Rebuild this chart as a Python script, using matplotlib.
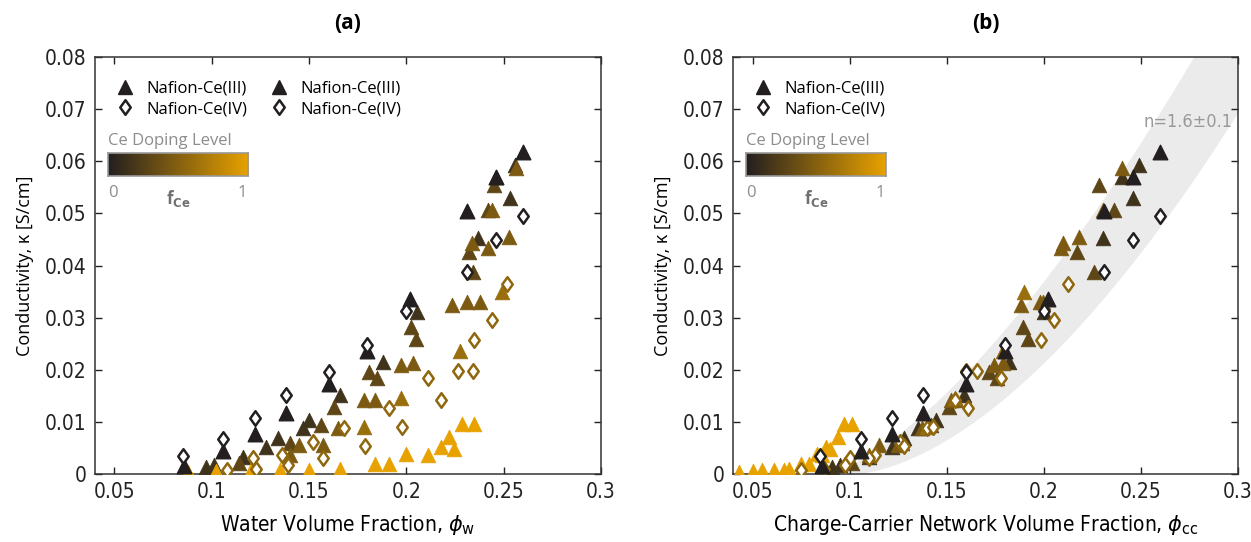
import numpy as np
import matplotlib
matplotlib.use('Agg')
import matplotlib.pyplot as plt
from matplotlib.colors import LinearSegmentedColormap
from matplotlib.lines import Line2D
from matplotlib.path import Path
from matplotlib import font_manager
from matplotlib.font_manager import FontProperties

_fonts = font_manager.fontManager.ttflist
_names = {f.name for f in _fonts}
MAIN = 'Open Sans' if 'Open Sans' in _names else 'DejaVu Sans'
plt.rcParams['font.family'] = [MAIN, 'DejaVu Sans']

# find a condensed / narrow face for the tick labels
_cond = None
for f in _fonts:
    if f.style == 'normal' and f.weight in (400, 'normal', 'regular') and \
            (('Narrow' in f.name) or ('Condensed' in f.name) or
             (f.stretch in ('condensed', 'semi-condensed', 'extra-condensed', 'ultra-condensed'))):
        _cond = f.fname
        break


def cprops(size):
    if _cond:
        return FontProperties(fname=_cond, size=size)
    return FontProperties(family='DejaVu Sans', size=size)


# ---------------- data ----------------
# undoped Nafion (f_Ce = 0): same abscissa in both panels
blk_tri_x = [0.086, 0.106, 0.122, 0.138, 0.160, 0.180, 0.202, 0.231, 0.246, 0.260]
blk_tri_y = [0.0015, 0.0045, 0.0077, 0.0118, 0.0173, 0.0236, 0.0336, 0.0505, 0.057, 0.0618]
blk_dia_x = [0.085, 0.106, 0.122, 0.138, 0.160, 0.180, 0.200, 0.231, 0.246, 0.260]
blk_dia_y = [0.0035, 0.0067, 0.0107, 0.0151, 0.0196, 0.0248, 0.0313, 0.0388, 0.0449, 0.0495]

# Nafion-Ce(III), several doping levels
f_s1 = 0.15
s1_xw = [0.097, 0.101, 0.116, 0.128, 0.134, 0.147, 0.150, 0.166, 0.188, 0.2056, 0.237, 0.246, 0.2535, 0.256]
s1_xc = [0.091, 0.095, 0.110, 0.122, 0.128, 0.135, 0.1447, 0.159, 0.182, 0.200, 0.2306, 0.240, 0.246, 0.249]
s1_y = [0.0013, 0.0017, 0.0033, 0.0052, 0.0069, 0.0088, 0.0104, 0.0152, 0.0215, 0.031, 0.0453, 0.057, 0.0529, 0.0593]

f_s2 = 0.3
s2_xw = [0.114, 0.140, 0.156, 0.163, 0.181, 0.185, 0.2025, 0.205, 0.232, 0.242, 0.234, 0.245]
s2_xc = [0.101, 0.127, 0.142, 0.151, 0.172, 0.176, 0.189, 0.192, 0.217, 0.236, 0.226, 0.2285]
s2_y = [0.0021, 0.006, 0.0094, 0.0129, 0.0196, 0.0184, 0.0282, 0.026, 0.0426, 0.0506, 0.0388, 0.0555]

f_s3 = 0.45
s3_xw = [0.140, 0.145, 0.157, 0.165, 0.178, 0.184, 0.197, 0.2036, 0.2235, 0.231, 0.238, 0.2337, 0.242, 0.2525, 0.244, 0.2565]
s3_xc = [0.110, 0.115, 0.125, 0.137, 0.152, 0.155, 0.1745, 0.179, 0.188, 0.198, 0.1997, 0.210, 0.209, 0.218, 0.2306, 0.240]
s3_y = [0.0036, 0.0056, 0.0056, 0.0088, 0.0142, 0.0142, 0.021, 0.0213, 0.0324, 0.033, 0.033, 0.0443, 0.0434, 0.0455, 0.0506, 0.0587]

f_s4 = 0.6
s4_xw = [0.178, 0.197, 0.2275, 0.249]
s4_xc = [0.140, 0.154, 0.179, 0.190]
s4_y = [0.009, 0.0146, 0.0236, 0.035]

f_s5 = 1.0
s5_xw = [0.088, 0.102, 0.120, 0.135, 0.150, 0.166, 0.184, 0.191, 0.200, 0.211, 0.218, 0.2245, 0.222, 0.2286, 0.235]
s5_xc = [0.043, 0.050, 0.055, 0.061, 0.066, 0.069, 0.075, 0.079, 0.083, 0.086, 0.088, 0.090, 0.094, 0.097, 0.101]
s5_y = [0.0004, 0.0006, 0.0008, 0.0008, 0.0008, 0.001, 0.002, 0.002, 0.0038, 0.0036, 0.0052, 0.0048, 0.0071, 0.0096, 0.0096]

# Nafion-Ce(IV)
f_d1 = 0.55
d1_xw = [0.108, 0.123, 0.121, 0.136, 0.139, 0.152, 0.157, 0.168, 0.179, 0.191, 0.198, 0.211, 0.218, 0.2265, 0.234, 0.235, 0.244, 0.2515]
d1_xc = [0.075, 0.087, 0.100, 0.113, 0.0975, 0.126, 0.110, 0.1396, 0.128, 0.161, 0.1427, 0.178, 0.154, 0.160, 0.1658, 0.1987, 0.2054, 0.2126]
d1_y = [0.0008, 0.0009, 0.003, 0.0036, 0.0017, 0.0061, 0.003, 0.0088, 0.0054, 0.0127, 0.009, 0.0184, 0.0142, 0.0198, 0.0198, 0.0257, 0.0296, 0.0365]

# power-law band in (b): y = k * (x - x0)^n
band_lo = (1.072, 0.100, 1.7)
band_hi = (0.951, 0.085, 1.5)

cmap = LinearSegmentedColormap.from_list('ce', ['#231f20', '#e8a200'])
dia = Path([(0, 1), (0.72, 0), (0, -1), (-0.72, 0), (0, 1)],
           [Path.MOVETO, Path.LINETO, Path.LINETO, Path.LINETO, Path.CLOSEPOLY])

tri_sets = [(f_s1, s1_xw, s1_xc, s1_y), (f_s2, s2_xw, s2_xc, s2_y),
            (f_s3, s3_xw, s3_xc, s3_y), (f_s4, s4_xw, s4_xc, s4_y),
            (f_s5, s5_xw, s5_xc, s5_y)]
dia_sets = [(f_d1, d1_xw, d1_xc, d1_y)]

fig = plt.figure(figsize=(12.51, 5.42), dpi=100)
ax_a = fig.add_axes([0.0759, 0.1255, 0.4045, 0.769])
ax_b = fig.add_axes([0.586, 0.1255, 0.4037, 0.769])

MS = 110


def draw(ax, panel):
    for f, xw, xc, y in tri_sets:
        x = xw if panel == 'a' else xc
        c = cmap(f)
        ax.scatter(x, y, s=MS, marker='^', color=c, edgecolors=c, linewidths=0.6, zorder=3)
    for f, xw, xc, y in dia_sets:
        x = xw if panel == 'a' else xc
        ax.scatter(x, y, s=MS, marker=dia, facecolors='white', edgecolors=cmap(f), linewidths=1.8, zorder=4)
    ax.scatter(blk_tri_x, blk_tri_y, s=MS, marker='^', color=cmap(0.0), zorder=5)
    ax.scatter(blk_dia_x, blk_dia_y, s=MS, marker=dia, facecolors='white', edgecolors=cmap(0.0),
               linewidths=1.8, zorder=6)

    ax.set_xlim(0.04, 0.3)
    ax.set_ylim(0, 0.08)
    ax.set_xticks([0.05, 0.1, 0.15, 0.2, 0.25, 0.3])
    ax.set_xticklabels(['0.05', '0.1', '0.15', '0.2', '0.25', '0.3'])
    ax.set_yticks(np.arange(0, 0.081, 0.01))
    ax.set_yticklabels(['0'] + ['%.2f' % v for v in np.arange(0.01, 0.081, 0.01)])
    ax.tick_params(direction='in', top=True, right=True, length=5, width=1, colors='#222222', pad=6)
    for lab in ax.get_xticklabels() + ax.get_yticklabels():
        lab.set_fontproperties(cprops(15))
    for sp in ax.spines.values():
        sp.set_linewidth(1.1)
        sp.set_color('#333333')
    ax.set_ylabel('Conductivity, κ [S/cm]', fontsize=13, labelpad=8)
    ax.set_title('(%s)' % panel, fontsize=15, fontweight='bold', pad=20)

    # colour bar for doping level
    cax = ax.inset_axes([0.026, 0.715, 0.277, 0.055])
    cax.imshow(np.linspace(0, 1, 256)[None, :], aspect='auto', cmap=cmap)
    cax.set_xticks([])
    cax.set_yticks([])
    for sp in cax.spines.values():
        sp.set_color('#999999')
        sp.set_linewidth(1.2)
    ax.text(0.026, 0.80, 'Ce Doping Level', transform=ax.transAxes, fontsize=12,
            color='#8c8c8c', va='center', ha='left')
    ax.text(0.036, 0.675, '0', transform=ax.transAxes, fontsize=12, color='#8c8c8c',
            va='center', ha='center')
    ax.text(0.292, 0.675, '1', transform=ax.transAxes, fontsize=12, color='#8c8c8c',
            va='center', ha='center')
    ax.text(0.164, 0.66, r'f$_{\mathbf{Ce}}$', transform=ax.transAxes, fontsize=12,
            color='#707070', va='center', ha='center', fontweight='bold')


h_tri = Line2D([], [], marker='^', ls='none', color='#231f20', markersize=10.5)
h_dia = Line2D([], [], marker=dia, ls='none', markerfacecolor='white',
               markeredgecolor='#231f20', markeredgewidth=1.8, markersize=10.5)

draw(ax_a, 'a')
ax_a.set_xlabel(r'Water Volume Fraction, $\phi_{\mathrm{w}}$', fontproperties=cprops(15), labelpad=8)
ax_a.legend([h_tri, h_dia, h_tri, h_dia],
            ['Nafion-Ce(III)', 'Nafion-Ce(IV)', 'Nafion-Ce(III)', 'Nafion-Ce(IV)'],
            ncol=2, loc='upper left', bbox_to_anchor=(0.0, 0.975), frameon=False,
            fontsize=12, handletextpad=0.3, columnspacing=0.9, labelspacing=0.25,
            borderpad=0.3)

draw(ax_b, 'b')
xx = np.linspace(0.04, 0.3, 300)
lo = band_lo[0] * np.clip(xx - band_lo[1], 0, None) ** band_lo[2]
hi = band_hi[0] * np.clip(xx - band_hi[1], 0, None) ** band_hi[2]
ax_b.fill_between(xx, lo, hi, color='#ebebeb', lw=0, zorder=1)
ax_b.text(0.274, 0.0675, 'n=1.6±0.1', fontproperties=cprops(13), color='#999999',
          ha='center', va='center', zorder=7)
ax_b.set_xlabel(r'Charge-Carrier Network Volume Fraction, $\phi_{\mathrm{cc}}$',
                fontproperties=cprops(15), labelpad=8)
ax_b.legend([h_tri, h_dia], ['Nafion-Ce(III)', 'Nafion-Ce(IV)'],
            loc='upper left', bbox_to_anchor=(0.0, 0.975), frameon=False,
            fontsize=12, handletextpad=0.3, labelspacing=0.25, borderpad=0.3)

fig.savefig('out.png', dpi=100)
